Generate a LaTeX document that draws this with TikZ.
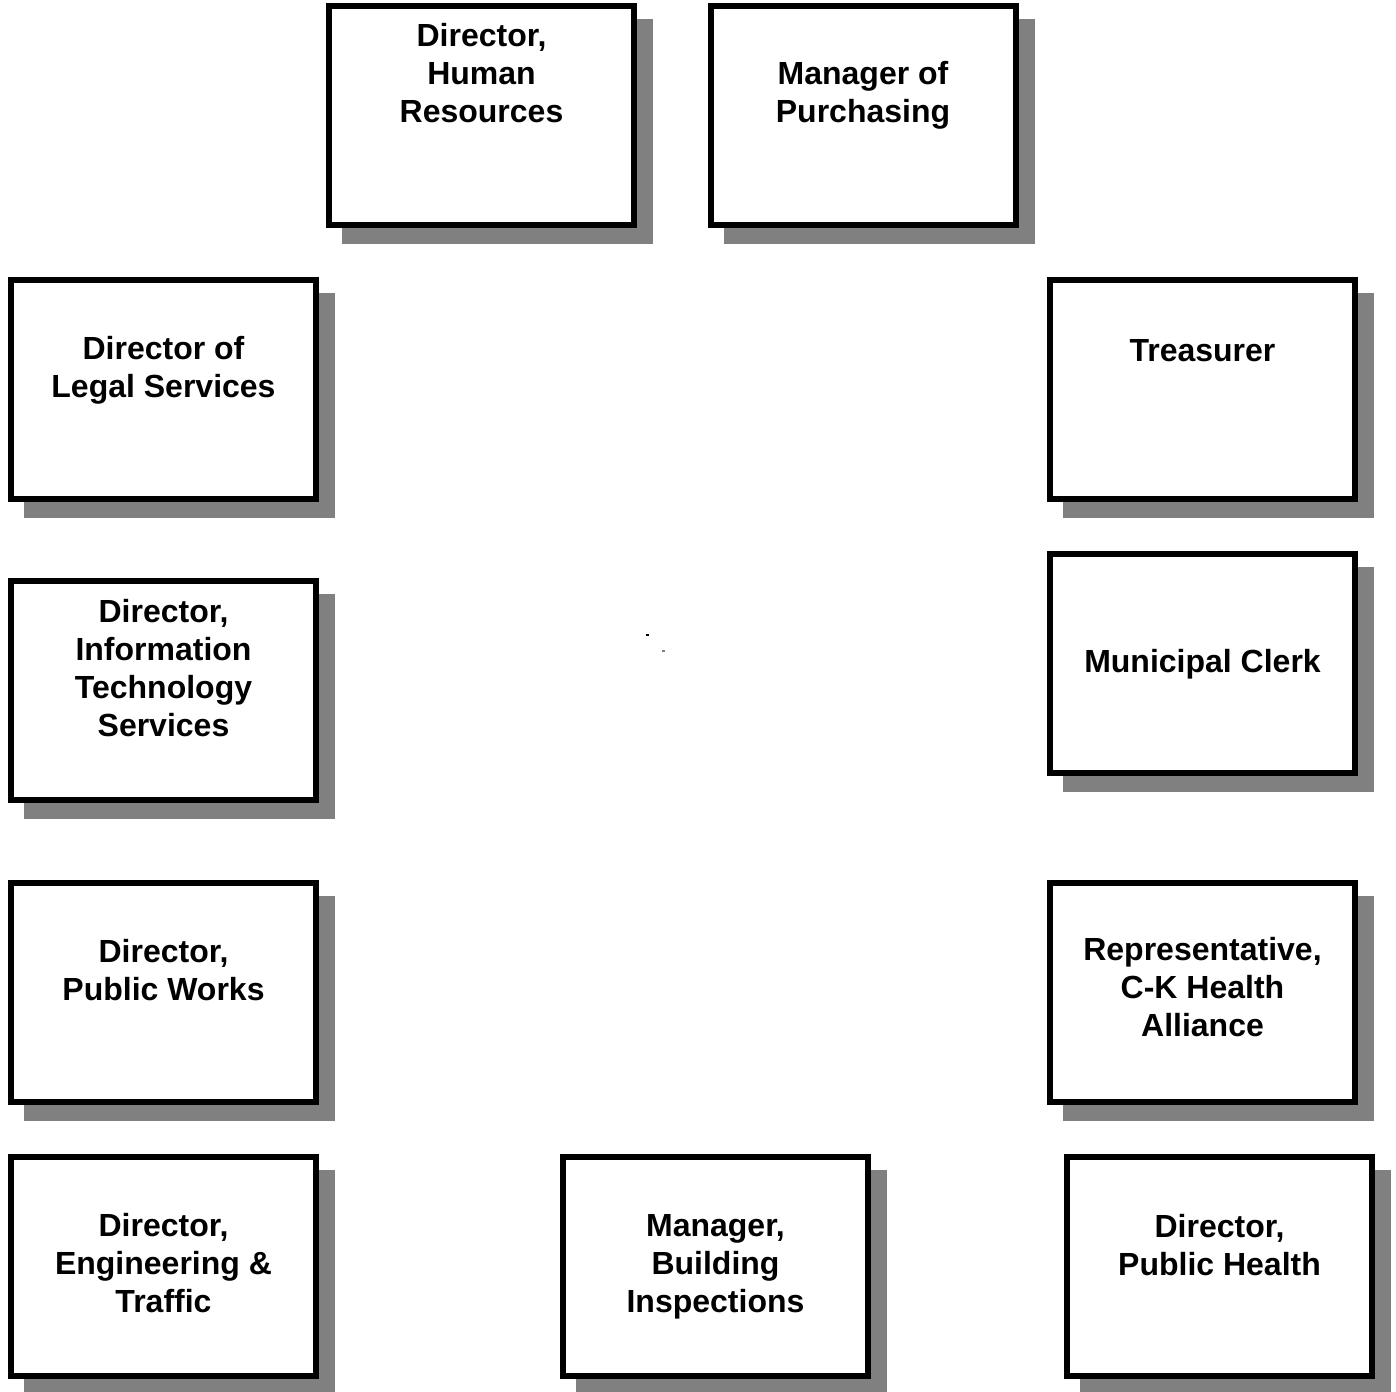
\documentclass[tikz,border=0pt]{standalone}
\usepackage{fontspec}
\setmainfont{Liberation Sans}
\usepackage{tikz}
\usetikzlibrary{calc}
\usetikzlibrary{shadows}
\definecolor{GrisOmbre}{gray}{.5}
\tikzstyle{poste}   =[draw=black, fill=white, line width=3pt, minimum width=152.5pt, minimum height=109.5pt, inner sep=0pt,
                      drop shadow={shadow xshift=8pt, shadow yshift=-8pt, fill=GrisOmbre, draw=GrisOmbre, line width=3pt, opacity=1}]
\tikzstyle{intitule}=[align=center, font=\bfseries\fontsize{16}{19}\selectfont, inner sep=0pt]
\begin{document}
\begin{tikzpicture}[x=0.5pt,y=-0.5pt]
 \useasboundingbox (0,0) rectangle (1396,1391);
 % les postes
 \node[poste] (rh) at (481.5,115.5) {};
 \node[poste] (achat) at (863,115.5) {};
 \node[poste] (legal) at (163.5,389) {};
 \node[poste] (tresor) at (1202.5,389) {};
 \node[poste] (ti) at (163.5,690.5) {};
 \node[poste] (greffe) at (1202.5,663.5) {};
 \node[poste] (travaux) at (163.5,992.5) {};
 \node[poste] (sante) at (1202.5,992.5) {};
 \node[poste] (genie) at (163.5,1266.5) {};
 \node[poste] (batiment) at (715.5,1266.5) {};
 \node[poste] (hygiene) at (1219.5,1266.5) {};
 % les textes
 \node[intitule] (rhT) at ($(rh)+(0,-42)$) {Director,\\Human\\Resources};
 \node[intitule] (achatT) at ($(achat)+(0,-20.5)$) {Manager of\\Purchasing};
 \node[intitule] (legalT) at ($(legal)+(0,-18.5)$) {Director of\\Legal Services};
 \node[intitule] (tresorT) at ($(tresor)+(0,-38)$) {Treasurer};
 \node[intitule] (tiT) at ($(ti)+(0,-22)$) {Director,\\Information\\Technology\\Services};
 \node[intitule] (greffeT) at ($(greffe)+(0,0.5)$) {Municipal Clerk};
 \node[intitule] (travauxT) at ($(travaux)+(0,-22.5)$) {Director,\\Public Works};
 \node[intitule] (santeT) at ($(sante)+(0,-5)$) {Representative,\\C-K Health\\Alliance};
 \node[intitule] (genieT) at ($(genie)+(0,-3)$) {Director,\\Engineering \&\\Traffic};
 \node[intitule] (batimentT) at ($(batiment)+(0,0)$) {Manager,\\Building\\Inspections};
 \node[intitule] (hygieneT) at ($(hygiene)+(0,-21.5)$) {Director,\\Public Health};
 % petit point au centre
 \fill[GrisOmbre] (662,650) rectangle (665,652);
 \fill[black] (646,634) rectangle (649,636);
\end{tikzpicture}
\end{document}
